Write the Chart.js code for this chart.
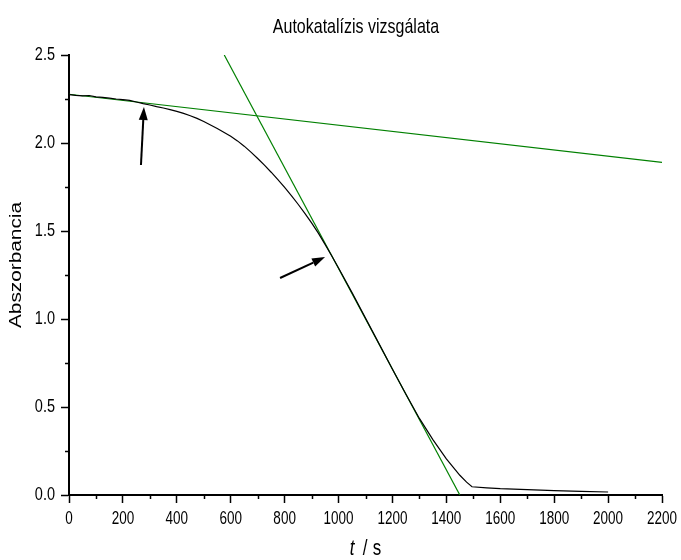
<!DOCTYPE html>
<html>
<head>
<meta charset="utf-8">
<script src="https://cdn.jsdelivr.net/npm/chart.js@4"></script>
<style>
    html, body { margin: 0; padding: 0; background: #fff; }
    #wrap { width: 681px; height: 560px; }
</style>
</head>
<body>
<div id="wrap"><canvas id="absChart" width="681" height="560"></canvas></div>
<script>
// Measured curve (time in s, absorbance)
const timeS = [0, 25, 50, 75, 100, 125, 150, 175, 200, 225, 250, 275, 300, 325, 350, 375, 400, 425, 450, 475,
    500, 550, 600, 625, 650, 675, 700, 725, 750, 775, 800, 825, 850, 875, 900, 925, 950, 975, 1000, 1050, 1100,
    1150, 1200, 1250, 1300, 1350, 1400, 1425, 1450, 1475, 1495, 1550, 1600, 1700, 1800, 1900, 2000];
const absorbance = [2.275, 2.271, 2.268, 2.270, 2.262, 2.259, 2.255, 2.250, 2.246, 2.242, 2.233, 2.224, 2.216, 2.207, 2.199, 2.190, 2.180, 2.168, 2.155, 2.140,
    2.122, 2.082, 2.038, 2.012, 1.982, 1.948, 1.912, 1.874, 1.834, 1.792, 1.748, 1.701, 1.652, 1.600, 1.546, 1.488, 1.424, 1.358, 1.290, 1.150, 1.005,
    0.860, 0.715, 0.572, 0.435, 0.315, 0.205, 0.158, 0.112, 0.073, 0.047, 0.041, 0.036, 0.030, 0.025, 0.021, 0.017];

// Tangent lines
const tangentStartX = [0, 2200];
const tangentStartY = [2.277, 1.890];
const tangentSteepX = [576, 1450];
const tangentSteepY = [2.5, 0];

// Arrows: [tailX, tailY, headX, headY] in data units
const arrows = [
    [267, 1.875, 278, 2.205],
    [783, 1.233, 950, 1.352]
];

// Axis ticks
const xMinorTicks = [100, 300, 500, 700, 900, 1100, 1300, 1500, 1700, 1900, 2100];
const yMinorTicks = [0.25, 0.75, 1.25, 1.75, 2.25];

const chartTitle = "Autokatalízis vizsgálata";
const yTitle = "Abszorbancia";

const FONT = '"Liberation Sans", Arial, sans-serif';
const SY = 1.3; // text in the reference looks vertically stretched

function toPoints(xs, ys) {
    return xs.map((x, i) => ({ x: x, y: ys[i] }));
}

function stretchedText(ctx, text, x, y, size, align, italic) {
    ctx.save();
    ctx.translate(x, y);
    ctx.scale(1, SY);
    ctx.font = (italic ? "italic " : "") + size + "px " + FONT;
    ctx.textAlign = align;
    ctx.textBaseline = "middle";
    ctx.fillText(text, 0, 0);
    ctx.restore();
}

// Extra drawing: minor ticks, tick labels, arrows, titles
const extrasPlugin = {
    id: "extras",
    afterDraw(chart) {
        const ctx = chart.ctx;
        const xs = chart.scales.x;
        const ys = chart.scales.y;
        const area = chart.chartArea;

        ctx.save();
        // minor ticks
        ctx.strokeStyle = "#000";
        ctx.lineWidth = 1.5;
        ctx.beginPath();
        xMinorTicks.forEach(v => {
            const px = Math.round(xs.getPixelForValue(v)) + 0.5;
            ctx.moveTo(px, area.bottom);
            ctx.lineTo(px, area.bottom + 4);
        });
        yMinorTicks.forEach(v => {
            const py = Math.round(ys.getPixelForValue(v)) + 0.5;
            ctx.moveTo(area.left, py);
            ctx.lineTo(area.left - 4, py);
        });
        ctx.stroke();

        // tick labels
        ctx.fillStyle = "#000";
        xs.ticks.forEach(t => {
            stretchedText(ctx, String(t.value), xs.getPixelForValue(t.value), area.bottom + 24, 13.5, "center");
        });
        ys.ticks.forEach(t => {
            stretchedText(ctx, t.value.toFixed(1), area.left - 14, ys.getPixelForValue(t.value), 14.5, "right");
        });

        // arrows
        arrows.forEach(a => {
            const x1 = xs.getPixelForValue(a[0]);
            const y1 = ys.getPixelForValue(a[1]);
            const x2 = xs.getPixelForValue(a[2]);
            const y2 = ys.getPixelForValue(a[3]);
            const ang = Math.atan2(y2 - y1, x2 - x1);
            const headLen = 13;
            const headW = 4.5;
            const bx = x2 - headLen * Math.cos(ang);
            const by = y2 - headLen * Math.sin(ang);
            ctx.lineWidth = 2;
            ctx.beginPath();
            ctx.moveTo(x1, y1);
            ctx.lineTo(bx, by);
            ctx.stroke();
            ctx.beginPath();
            ctx.moveTo(x2, y2);
            ctx.lineTo(bx - headW * Math.sin(ang), by + headW * Math.cos(ang));
            ctx.lineTo(bx + headW * Math.sin(ang), by - headW * Math.cos(ang));
            ctx.closePath();
            ctx.fill();
        });

        // chart title
        stretchedText(ctx, chartTitle, 356, 27, 16, "center");

        // x axis title: italic t
        stretchedText(ctx, "t", 352, 549, 17, "center", true);
        stretchedText(ctx, "/", 365, 549, 17, "center");
        stretchedText(ctx, "s", 377, 549, 17, "center");

        // y axis title, stretched along its length
        ctx.translate(17, 265);
        ctx.rotate(-Math.PI / 2);
        ctx.scale(SY, 1);
        ctx.font = "16px " + FONT;
        ctx.textAlign = "center";
        ctx.textBaseline = "middle";
        ctx.fillText(yTitle, 0, 0);
        ctx.restore();
    }
};

const ctx = document.getElementById("absChart");

new Chart(ctx, {
    type: "scatter",
    data: {
        datasets: [
            {
                label: "Abszorbancia",
                data: toPoints(timeS, absorbance),
                showLine: true,
                borderColor: "#000000",
                borderWidth: 1.2,
                pointRadius: 0,
                tension: 0,
            },
            {
                label: "Kezdeti érintő",
                data: toPoints(tangentStartX, tangentStartY),
                showLine: true,
                borderColor: "#008000",
                borderWidth: 1.2,
                pointRadius: 0,
            },
            {
                label: "Meredek érintő",
                data: toPoints(tangentSteepX, tangentSteepY),
                showLine: true,
                borderColor: "#008000",
                borderWidth: 1.2,
                pointRadius: 0,
            }
        ]
    },
    options: {
        responsive: false,
        animation: false,
        layout: {
            padding: { top: 55, right: 19, left: 0, bottom: 0 }
        },
        plugins: {
            legend: { display: false },
            tooltip: { enabled: false },
            title: { display: false }
        },
        scales: {
            x: {
                type: "linear",
                min: 0,
                max: 2200,
                afterFit: scale => { scale.height = 65; },
                grid: {
                    display: true,
                    drawOnChartArea: false,
                    drawTicks: true,
                    tickLength: 8,
                    tickWidth: 1.5,
                    tickColor: "#000"
                },
                border: { display: true, color: "#000", width: 2 },
                ticks: {
                    display: false,
                    stepSize: 200
                }
            },
            y: {
                type: "linear",
                min: 0,
                max: 2.5,
                afterFit: scale => { scale.width = 69; },
                grid: {
                    display: true,
                    drawOnChartArea: false,
                    drawTicks: true,
                    tickLength: 8,
                    tickWidth: 1.5,
                    tickColor: "#000"
                },
                border: { display: true, color: "#000", width: 2 },
                ticks: {
                    display: false,
                    stepSize: 0.5
                }
            }
        }
    },
    plugins: [extrasPlugin]
});
</script>
</body>
</html>
